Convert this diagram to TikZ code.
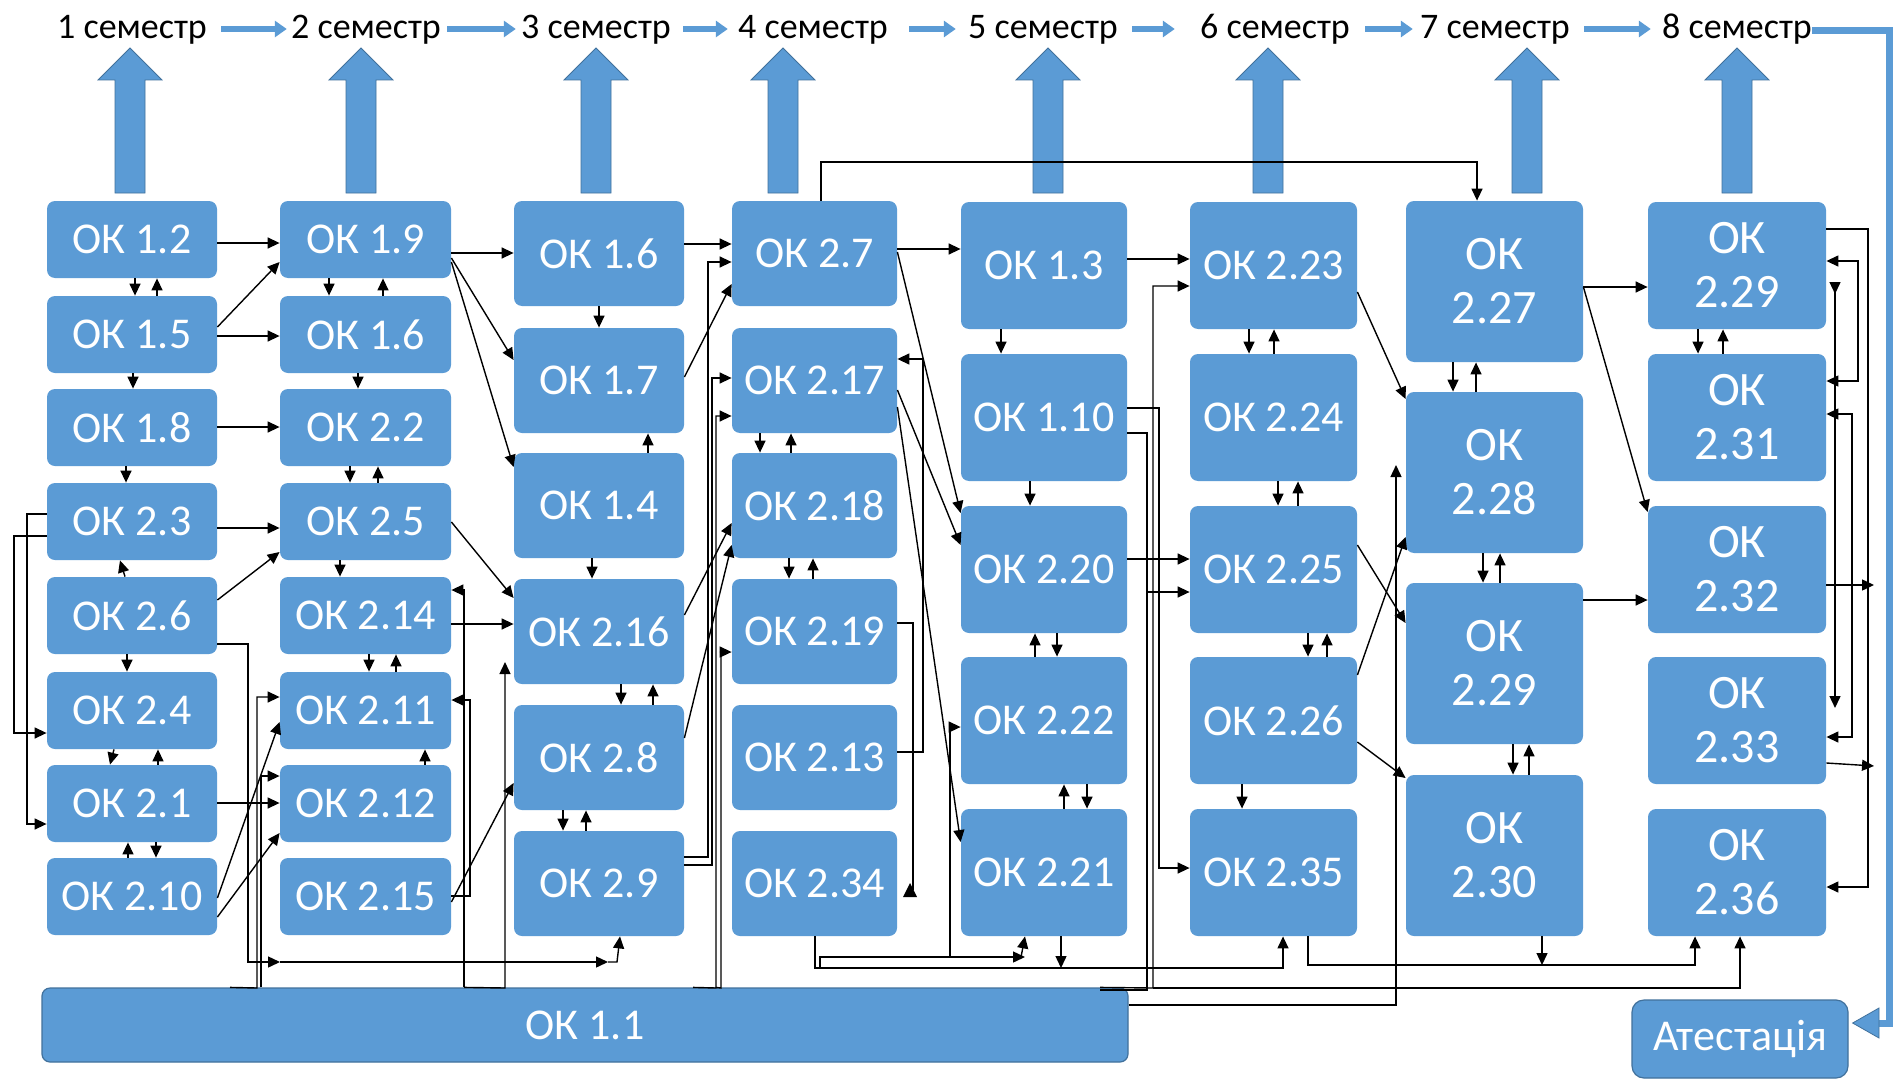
\documentclass[tikz,border=0pt]{standalone}
\usepackage{fontspec}
\usetikzlibrary{arrows.meta}
\newfontfamily\calib{Carlito}
\newcommand\okfont{\calib\fontsize{22pt}{26.5pt}\selectfont}
\newcommand\okbigfont{\calib\fontsize{24pt}{27pt}\selectfont}
\newcommand\semfont{\calib\fontsize{18pt}{21pt}\selectfont}
\definecolor{okblue}{HTML}{5B9BD5}
\definecolor{okborder}{HTML}{41719C}
\tikzset{
  okbox/.style={fill=okblue, rounded corners=4pt, text=white, inner sep=0pt, align=center, font=\okfont},
  col1/.style={okbox, minimum width=85pt, minimum height=38.5pt},
  col2/.style={okbox, minimum width=85.5pt, minimum height=38.5pt},
  col3/.style={okbox, minimum width=85pt, minimum height=52.5pt},
  col4/.style={okbox, minimum width=82.5pt, minimum height=52.5pt},
  col5/.style={okbox, minimum width=83pt, minimum height=63.5pt},
  col6/.style={okbox, minimum width=83.5pt, minimum height=63.5pt},
  col7/.style={okbox, font=\okbigfont, minimum width=88.5pt, minimum height=80.5pt},
  col8/.style={okbox, font=\okbigfont, minimum width=89pt, minimum height=63.5pt},
  arr/.style={-{Triangle[length=6pt,width=5.5pt]}, line width=0.7pt},
  darr/.style={{Triangle[length=6pt,width=5.5pt]}-{Triangle[length=6pt,width=5.5pt]}, line width=0.7pt},
  ln/.style={line width=0.7pt},
  sem/.style={font=\semfont, inner sep=0pt, anchor=base},
  sarr/.style={-{Triangle[length=6pt,width=8pt]}, line width=2.8pt, okblue},
  uparr/.pic={\filldraw[fill=okblue, draw=okborder, line width=0.4pt]
     (-15,193) -- (-15,80) -- (-32,80) -- (0,48) -- (32,80) -- (15,80) -- (15,193) -- cycle;}
}
\begin{document}
\begin{tikzpicture}[x=0.5pt,y=-0.5pt]
\useasboundingbox (0,0) rectangle (1894,1081);
\fill[white] (0,0) rectangle (1894,1081);

% semester labels
\node[sem] (s1) at (132,39) {1 семестр};
\node[sem] (s2) at (366,39) {2 семестр};
\node[sem] (s3) at (596,39) {3 семестр};
\node[sem] (s4) at (813,39) {4 семестр};
\node[sem] (s5) at (1043,39) {5 семестр};
\node[sem] (s6) at (1275,39) {6 семестр};
\node[sem] (s7) at (1495,39) {7 семестр};
\node[sem] (s8) at (1737,39) {8 семестр};
\draw[sarr, shorten <=7pt, shorten >=2pt] (s1.east |- 0,29) -- (s2.west |- 0,29);
\draw[sarr, shorten <=3pt, shorten >=2.5pt] (s2.east |- 0,29) -- (s3.west |- 0,29);
\draw[sarr, shorten <=6pt, shorten >=5pt] (s3.east |- 0,29) -- (s4.west |- 0,29);
\draw[sarr, shorten <=10.5pt, shorten >=6pt] (s4.east |- 0,29) -- (s5.west |- 0,29);
\draw[sarr, shorten <=7pt, shorten >=12.5pt] (s5.east |- 0,29) -- (s6.west |- 0,29);
\draw[sarr, shorten <=7.5pt, shorten >=3.5pt] (s6.east |- 0,29) -- (s7.west |- 0,29);
\draw[sarr, shorten <=7pt, shorten >=5.5pt] (s7.east |- 0,29) -- (s8.west |- 0,29);

% big up arrows
\foreach \cx in {130,361,596,783,1048,1268,1527,1737} { \pic at (\cx,0) {uparr}; }

% boxes
\node[col1] (c1a) at (132,239.5) {ОК 1.2};
\node[col1] (c1b) at (132,334.5) {ОК 1.5};
\node[col1] (c1c) at (132,427.5) {ОК 1.8};
\node[col1] (c1d) at (132,521.5) {ОК 2.3};
\node[col1] (c1e) at (132,615.5) {ОК 2.6};
\node[col1] (c1f) at (132,710.5) {ОК 2.4};
\node[col1] (c1g) at (132,803.5) {ОК 2.1};
\node[col1] (c1h) at (132,896.5) {ОК 2.10};
\node[col2] (c2a) at (365.5,239.5) {ОК 1.9};
\node[col2] (c2b) at (365.5,334.5) {ОК 1.6};
\node[col2] (c2c) at (365.5,427.5) {ОК 2.2};
\node[col2] (c2d) at (365.5,521.5) {ОК 2.5};
\node[col2] (c2e) at (365.5,615.5) {ОК 2.14};
\node[col2] (c2f) at (365.5,710.5) {ОК 2.11};
\node[col2] (c2g) at (365.5,803.5) {ОК 2.12};
\node[col2] (c2h) at (365.5,896.5) {ОК 2.15};
\node[col3] (c3a) at (599,253.5) {ОК 1.6};
\node[col3] (c3b) at (599,380.5) {ОК 1.7};
\node[col3] (c3c) at (599,505.5) {ОК 1.4};
\node[col3] (c3d) at (599,631.5) {ОК 2.16};
\node[col3] (c3e) at (599,757.5) {ОК 2.8};
\node[col3] (c3f) at (599,883.5) {ОК 2.9};
\node[col4] (c4a) at (814.5,253.5) {ОК 2.7};
\node[col4] (c4b) at (814.5,380.5) {ОК 2.17};
\node[col4] (c4c) at (814.5,505.5) {ОК 2.18};
\node[col4] (c4d) at (814.5,631.5) {ОК 2.19};
\node[col4] (c4e) at (814.5,757.5) {ОК 2.13};
\node[col4] (c4f) at (814.5,883.5) {ОК 2.34};
\node[col5] (c5a) at (1044,265.5) {ОК 1.3};
\node[col5] (c5b) at (1044,417.5) {ОК 1.10};
\node[col5] (c5c) at (1044,569.5) {ОК 2.20};
\node[col5] (c5d) at (1044,720.5) {ОК 2.22};
\node[col5] (c5e) at (1044,872.5) {ОК 2.21};
\node[col6] (c6a) at (1273.5,265.5) {ОК 2.23};
\node[col6] (c6b) at (1273.5,417.5) {ОК 2.24};
\node[col6] (c6c) at (1273.5,569.5) {ОК 2.25};
\node[col6] (c6d) at (1273.5,720.5) {ОК 2.26};
\node[col6] (c6e) at (1273.5,872.5) {ОК 2.35};
\node[col7] (c7a) at (1494.5,281.5) {ОК\\2.27};
\node[col7] (c7b) at (1494.5,472.5) {ОК\\2.28};
\node[col7] (c7c) at (1494.5,663.5) {ОК\\2.29};
\node[col7] (c7d) at (1494.5,855.5) {ОК\\2.30};
\node[col8] (c8a) at (1737,265.5) {ОК\\2.29};
\node[col8] (c8b) at (1737,417.5) {ОК\\2.31};
\node[col8] (c8c) at (1737,569.5) {ОК\\2.32};
\node[col8] (c8d) at (1737,720.5) {ОК\\2.33};
\node[col8] (c8e) at (1737,872.5) {ОК\\2.36};
\node[okbox, draw=okborder, line width=0.6pt, minimum width=543pt, minimum height=37pt] (ok11) at (585,1025) {ОК 1.1};
\node[okbox, draw=okborder, line width=0.6pt, minimum width=108pt, minimum height=39pt, rounded corners=6pt] (att) at (1740,1039) {Атестація};

% to attestation
\draw[okblue, line width=3.5pt] (s8.east |- 0,31) -- (1889,31) -- (1889,1023) -- (1876,1023);
\filldraw[fill=okblue, draw=okborder, line width=0.4pt] (att.east |- 0,1023) ++(4,0) -- (1879,1008) -- (1879,1038) -- cycle;

% col1 internal
\draw[arr] (c1a.south -| 135,0) -- (c1b.north -| 135,0);
\draw[arr] (c1b.north -| 157,0) -- (c1a.south -| 157,0);
\draw[arr] (c1b.south -| 133,0) -- (c1c.north -| 133,0);
\draw[arr] (c1c.south -| 126,0) -- (c1d.north -| 126,0);
\draw[arr] (c1e.north -| 125,0) -- (c1d.south -| 120,0);
\draw[arr] (c1e.south -| 127,0) -- (c1f.north -| 127,0);
\draw[arr] (c1f.south -| 114,0) -- (c1g.north -| 110,0);
\draw[arr] (c1g.north -| 158,0) -- (c1f.south -| 158,0);
\draw[arr] (c1h.north -| 128,0) -- (c1g.south -| 128,0);
\draw[arr] (c1g.south -| 156,0) -- (c1h.north -| 156,0);

% col1 -> col2
\draw[arr] (c1a.east |- 0,243) -- (c2a.west |- 0,243);
\draw[arr] (c1b.east |- 0,327) -- (c2a.west |- 0,262);
\draw[arr] (c1b.east |- 0,336) -- (c2b.west |- 0,336);
\draw[arr] (c1c.east |- 0,427) -- (c2c.west |- 0,427);
\draw[arr] (c1d.east |- 0,528) -- (c2d.west |- 0,528);
\draw[arr] (c1e.east |- 0,600) -- (c2d.west |- 0,552);
\draw[arr] (c1g.east |- 0,803) -- (c2g.west |- 0,803);
\draw[arr] (c1h.east |- 0,898) -- (c2f.west |- 0,722);
\draw[arr] (c1h.east |- 0,917) -- (c2g.west |- 0,833);
\draw[arr] (c1d.west |- 0,514) -- (27,514) -- (27,824) -- (c1g.west |- 0,824);
\draw[arr] (c1d.west |- 0,536) -- (14,536) -- (14,733) -- (c1f.west |- 0,733);
\coordinate (j1) at (280,962);
\coordinate (j2) at (608,962);
\draw[arr] (c1e.east |- 0,644) -- (248,644) -- (248,962) -- (j1);
\draw[arr] (j1) -- (j2);
\draw[arr] (j2) -- (617,962) -- (c3f.south -| 620,0);
\draw[arr] (ok11.north -| 230,0) -- (257,988) -- (257,697) -- (c2f.west |- 0,697);
\draw[arr] (ok11.north -| 261,0) -- (261,776) -- (c2g.west |- 0,776);

% col2 internal
\draw[arr] (c2a.south -| 329,0) -- (c2b.north -| 329,0);
\draw[arr] (c2b.north -| 383,0) -- (c2a.south -| 383,0);
\draw[arr] (c2b.south -| 358,0) -- (c2c.north -| 358,0);
\draw[arr] (c2c.south -| 350,0) -- (c2d.north -| 350,0);
\draw[arr] (c2d.north -| 378,0) -- (c2c.south -| 378,0);
\draw[arr] (c2d.south -| 340,0) -- (c2e.north -| 340,0);
\draw[arr] (c2e.south -| 369,0) -- (c2f.north -| 369,0);
\draw[arr] (c2f.north -| 396,0) -- (c2e.south -| 396,0);
\draw[arr] (c2g.north -| 425,0) -- (c2f.south -| 425,0);

% col2 -> col3
\draw[arr] (c2a.east |- 0,253) -- (c3a.west |- 0,253);
\draw[arr] (c2a.east |- 0,258) -- (c3b.west |- 0,360);
\draw[arr] (c2a.east |- 0,262) -- (c3c.west |- 0,467);
\draw[arr] (c2d.east |- 0,522) -- (c3d.west |- 0,598);
\draw[arr] (c2e.east |- 0,624) -- (c3d.west |- 0,624);
\draw[arr] (ok11.north -| 464,0) -- (464,590) -- (c2e.east |- 0,590);
\coordinate (j3) at (505,662);
\draw[arr] (ok11.north -| 464,0) -- (505,988) -- (j3);
\draw[arr] (c2h.east |- 0,896) -- (470,896) -- (470,700) -- (c2f.east |- 0,700);
\draw[arr] (c2h.east |- 0,902) -- (c3e.west |- 0,783);

% col3 internal
\draw[arr] (c3a.south -| 599,0) -- (c3b.north -| 599,0);
\draw[arr] (c3c.north -| 648,0) -- (c3b.south -| 648,0);
\draw[arr] (c3c.south -| 592,0) -- (c3d.north -| 592,0);
\draw[arr] (c3d.south -| 621,0) -- (c3e.north -| 621,0);
\draw[arr] (c3e.north -| 653,0) -- (c3d.south -| 653,0);
\draw[arr] (c3e.south -| 563,0) -- (c3f.north -| 563,0);
\draw[arr] (c3f.north -| 586,0) -- (c3e.south -| 586,0);

% col3 -> col4
\draw[arr] (c3a.east |- 0,244) -- (c4a.west |- 0,244);
\draw[arr] (c3b.east |- 0,377) -- (c4a.west |- 0,284);
\draw[arr] (c3d.east |- 0,615) -- (c4c.west |- 0,523);
\draw[arr] (c3e.east |- 0,738) -- (c4c.west |- 0,545);
\draw[arr] (c3f.east |- 0,857) -- (708,857) -- (708,262) -- (c4a.west |- 0,262);
\draw[arr] (c3f.east |- 0,865) -- (712,865) -- (712,378) -- (c4b.west |- 0,378);
\draw[arr] (ok11.north -| 693,0) -- (716,988) -- (716,416) -- (c4b.west |- 0,416);
\draw[arr] (ok11.north -| 716,0) -- (721,988) -- (721,652) -- (c4d.west |- 0,652);

% col4 internal
\draw[arr] (c4b.south -| 760,0) -- (c4c.north -| 760,0);
\draw[arr] (c4c.north -| 791,0) -- (c4b.south -| 791,0);
\draw[arr] (c4c.south -| 789,0) -- (c4d.north -| 789,0);
\draw[arr] (c4d.north -| 813,0) -- (c4c.south -| 813,0);
\draw[arr] (c4e.east |- 0,752) -- (923,752) -- (923,359) -- (c4b.east |- 0,359);
\draw[ln] (c4d.east |- 0,623) -- (913,623) -- (913,890);
\fill (903,897) -- (917,897) -- (910,883) -- cycle;
\draw[arr] (c4a.north -| 821,0) -- (821,162) -- (1477,162) -- (c7a.north -| 1477,0);

% col4 -> col5
\draw[arr] (c4a.east |- 0,249) -- (c5a.west |- 0,249);
\draw[arr] (c4a.east |- 0,252) -- (c5c.west |- 0,513);
\draw[arr] (c4b.east |- 0,390) -- (c5c.west |- 0,545);
\draw[arr] (c4b.east |- 0,407) -- (c5e.west |- 0,842);
\draw[arr] (c4f.south -| 815,0) -- (815,968) -- (1283,968) -- (c6e.south -| 1283,0);
\coordinate (j4) at (1025,957);
\draw[arr] (820,968) -- (820,957) -- (j4);
\draw[arr] (1021,957) -- (c5e.south -| 1025,0);
\draw[arr] (950,957) -- (950,727) -- (c5d.west |- 0,727);
\coordinate (j5) at (1061,968);
\draw[arr] (c5e.south -| 1061,0) -- (j5);

% col5 internal
\draw[arr] (c5a.south -| 1001,0) -- (c5b.north -| 1001,0);
\draw[arr] (c5b.south -| 1030,0) -- (c5c.north -| 1030,0);
\draw[arr] (c5d.north -| 1035,0) -- (c5c.south -| 1035,0);
\draw[arr] (c5c.south -| 1057,0) -- (c5d.north -| 1057,0);
\draw[arr] (c5e.north -| 1064,0) -- (c5d.south -| 1064,0);
\draw[arr] (c5d.south -| 1087,0) -- (c5e.north -| 1087,0);

% col5 -> col6
\draw[arr] (c5a.east |- 0,259) -- (c6a.west |- 0,259);
\draw[arr] (c5c.east |- 0,559) -- (c6c.west |- 0,559);
\draw[arr] (c5b.east |- 0,408) -- (1159,408) -- (1159,868) -- (c6e.west |- 0,868);
\draw[arr] (c5b.east |- 0,433) -- (1147,433) -- (1147,592) -- (c6c.west |- 0,592);
\draw[ln] (1147,592) -- (1147,990) -- (1100,990);
\draw[arr] (ok11.north -| 1100,0) -- (1153,988) -- (1153,286) -- (c6a.west |- 0,286);
\draw[arr] (1153,988) -- (1740,988) -- (c8e.south -| 1740,0);
\coordinate (j6) at (1396,465);
\draw[arr] (ok11.east |- 0,1005) -- (1396,1005) -- (j6);

% col6 internal
\draw[arr] (c6a.south -| 1249,0) -- (c6b.north -| 1249,0);
\draw[arr] (c6b.north -| 1274,0) -- (c6a.south -| 1274,0);
\draw[arr] (c6b.south -| 1278,0) -- (c6c.north -| 1278,0);
\draw[arr] (c6c.north -| 1298,0) -- (c6b.south -| 1298,0);
\draw[arr] (c6c.south -| 1308,0) -- (c6d.north -| 1308,0);
\draw[arr] (c6d.north -| 1327,0) -- (c6c.south -| 1327,0);
\draw[arr] (c6d.south -| 1242,0) -- (c6e.north -| 1242,0);
\draw[arr] (c6e.south -| 1308,0) -- (1308,965) -- (1695,965) -- (c8e.south -| 1695,0);

% col6 -> col7
\draw[arr] (c6a.east |- 0,292) -- (c7b.west |- 0,399);
\draw[arr] (c6c.east |- 0,545) -- (c7c.west |- 0,623);
\draw[arr] (c6d.east |- 0,675) -- (c7b.west |- 0,537);
\draw[arr] (c6d.east |- 0,742) -- (c7d.west |- 0,778);

% col7 internal
\draw[arr] (c7a.south -| 1453,0) -- (c7b.north -| 1453,0);
\draw[arr] (c7b.north -| 1476,0) -- (c7a.south -| 1476,0);
\draw[arr] (c7b.south -| 1483,0) -- (c7c.north -| 1483,0);
\draw[arr] (c7c.north -| 1500,0) -- (c7b.south -| 1500,0);
\draw[arr] (c7c.south -| 1513,0) -- (c7d.north -| 1513,0);
\draw[arr] (c7d.north -| 1529,0) -- (c7c.south -| 1529,0);
\coordinate (j7) at (1542,965);
\draw[arr] (c7d.south -| 1542,0) -- (j7);

% col7 -> col8
\draw[arr] (c7a.east |- 0,287) -- (c8a.west |- 0,287);
\draw[arr] (c7a.east |- 0,287) -- (c8c.west |- 0,512);
\draw[arr] (c7c.east |- 0,600) -- (c8c.west |- 0,600);

% col8
\draw[arr] (c8a.south -| 1698,0) -- (c8b.north -| 1698,0);
\draw[arr] (c8b.north -| 1723,0) -- (c8a.south -| 1723,0);
\draw[arr] (c8a.east |- 0,229) -- (1868,229) -- (1868,887) -- (c8e.east |- 0,887);
\draw[darr] (c8a.east |- 0,261) -- (1858,261) -- (1858,381) -- (c8b.east |- 0,381);
\coordinate (j8) at (1835,282);
\coordinate (j9) at (1835,708);
\draw[{Triangle[reversed,length=6pt,width=5.5pt]}-{Triangle[length=6pt,width=5.5pt]}, line width=0.7pt] (j8) -- (j9);
\draw[darr] (c8b.east |- 0,414) -- (1852,414) -- (1852,737) -- (c8d.east |- 0,737);
\coordinate (j10) at (1874,585);
\coordinate (j11) at (1874,766);
\draw[arr] (c8c.east |- 0,585) -- (j10);
\draw[arr] (c8d.east |- 0,763) -- (j11);
\end{tikzpicture}
\end{document}
